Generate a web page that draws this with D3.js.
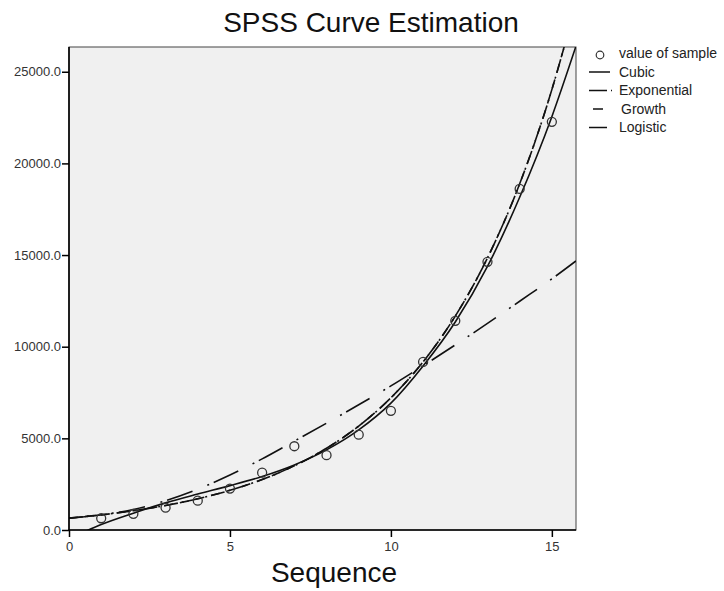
<!DOCTYPE html>
<html lang="en">
<head>
<meta charset="UTF-8">
<title>SPSS Curve Estimation</title>
<script src="https://d3js.org/d3.v7.min.js"></script>
<style>
    body { margin: 0; background: #fff; }
    svg { font-family: "Liberation Sans", Arial, sans-serif; }
    .tick text { fill: #333; font-size: 13px; }
    .tick line { stroke: #000; }
    .domain { display: none; }
</style>
</head>
<body>
<svg width="724" height="591"></svg>
<script>
// observed values
const sampleSeq = [1, 2, 3, 4, 5, 6, 7, 8, 9, 10, 11, 12, 13, 14, 15];
const sampleValues = [640, 880, 1220, 1600, 2260, 3130, 4570, 4080, 5200, 6500, 9170, 11410, 14630, 18610, 22270];

// fitted curves
const cubicSeq = [0, 1, 2, 3, 4, 5, 6, 7, 8, 9, 10, 11, 12, 13, 14, 15, 15.75];
const cubicValues = [-500, 300, 920, 1480, 1960, 2420, 2920, 3550, 4370, 5460, 6920, 8950, 11350, 14380, 18150, 22550, 26400];

const expSeq = [0, 1, 2, 3, 4, 5, 6, 7, 8, 9, 10, 11, 12, 13, 14, 15, 15.5];
const expValues = [650, 827, 1052, 1338, 1702, 2165, 2754, 3503, 4457, 5669, 7212, 9174, 11670, 14846, 18886, 24025, 27100];
const growthValues = [650, 827, 1052, 1338, 1702, 2165, 2754, 3503, 4457, 5669, 7212, 9174, 11670, 14846, 18886, 24025, 27100];

const logisticSeq = [0, 1, 2, 3, 4, 5, 6, 7, 8, 9, 10, 11, 12, 13, 14, 15, 15.75];
const logisticValues = [640, 830, 1120, 1600, 2230, 3000, 3880, 4850, 5830, 6830, 7860, 8960, 10100, 11270, 12480, 13700, 14680];

const xTicks = [0, 5, 10, 15];
const yTicks = [0, 5000, 10000, 15000, 20000, 25000];
const legendLabels = ["value of sample", "Cubic", "Exponential", "Growth", "Logistic"];

const plotLeft = 69, plotRight = 576, plotTop = 47, plotBottom = 530;

const svg = d3.select("svg");

const x = d3.scaleLinear().domain([0, 15.75]).range([plotLeft, plotRight]);
const y = d3.scaleLinear().domain([0, 26350]).range([plotBottom, plotTop]);

// plot panel
svg.append("rect")
    .attr("x", plotLeft).attr("y", plotTop)
    .attr("width", plotRight - plotLeft).attr("height", plotBottom - plotTop)
    .attr("fill", "#f0f0f0")
    .attr("stroke", "#444")
    .attr("stroke-width", 1);

svg.append("clipPath").attr("id", "plot-clip")
    .append("rect")
    .attr("x", plotLeft).attr("y", plotTop)
    .attr("width", plotRight - plotLeft).attr("height", plotBottom - plotTop);

const plot = svg.append("g").attr("clip-path", "url(#plot-clip)");

const line = d3.line()
    .x(d => x(d[0]))
    .y(d => y(d[1]))
    .curve(d3.curveMonotoneX);

const curves = [
    { seq: logisticSeq, vals: logisticValues, dash: "27,16,2,5" },
    { seq: expSeq, vals: growthValues, dash: "9,7" },
    { seq: expSeq, vals: expValues, dash: "14,4,2,4" },
    { seq: cubicSeq, vals: cubicValues, dash: null }
];

curves.forEach(c => {
    plot.append("path")
        .datum(c.seq.map((t, i) => [t, c.vals[i]]))
        .attr("d", line)
        .attr("fill", "none")
        .attr("stroke", "#111")
        .attr("stroke-width", 1.6)
        .attr("stroke-dasharray", c.dash);
});

plot.selectAll("circle.sample")
    .data(sampleSeq.map((t, i) => [t, sampleValues[i]]))
    .enter().append("circle")
    .attr("class", "sample")
    .attr("cx", d => x(d[0]))
    .attr("cy", d => y(d[1]))
    .attr("r", 4.5)
    .attr("fill", "none")
    .attr("stroke", "#333")
    .attr("stroke-width", 1.3);

// axes
svg.append("g")
    .attr("transform", `translate(0, ${plotBottom})`)
    .call(d3.axisBottom(x).tickValues(xTicks).tickSize(7).tickPadding(5).tickFormat(d3.format("d")))
    .call(g => g.selectAll(".tick line").attr("stroke-width", 1.5));

svg.append("g")
    .attr("transform", `translate(${plotLeft}, 0)`)
    .call(d3.axisLeft(y).tickValues(yTicks).tickSize(7).tickPadding(1).tickFormat(d3.format(".1f")))
    .call(g => g.selectAll(".tick line").attr("stroke-width", 1.5));

svg.append("line")
    .attr("x1", plotLeft).attr("x2", plotLeft).attr("y1", plotTop).attr("y2", plotBottom + 0.5)
    .attr("stroke", "#000").attr("stroke-width", 1.6);
svg.append("line")
    .attr("x1", plotLeft - 0.5).attr("x2", plotRight).attr("y1", plotBottom).attr("y2", plotBottom)
    .attr("stroke", "#000").attr("stroke-width", 1.6);

// titles
svg.append("text")
    .attr("x", 371).attr("y", 32)
    .attr("text-anchor", "middle")
    .style("font-size", "28px")
    .attr("fill", "#111")
    .text("SPSS Curve Estimation");

svg.append("text")
    .attr("x", 334).attr("y", 582)
    .attr("text-anchor", "middle")
    .style("font-size", "28px")
    .attr("fill", "#111")
    .text("Sequence");

// legend
const legend = svg.append("g");
const legendY = (i) => 58 + i * 18.5;
const legendDash = [null, null, "18,4,2,4", "10,40", "18,4,2,4"];
const legendX1 = [0, 589, 589, 593, 589];
const legendX2 = [0, 610, 612, 603, 611];

legend.append("circle")
    .attr("cx", 600).attr("cy", legendY(0) - 3)
    .attr("r", 3.8)
    .attr("fill", "none")
    .attr("stroke", "#333")
    .attr("stroke-width", 1.2);

legendLabels.forEach((label, i) => {
    if (i > 0) {
        legend.append("line")
            .attr("x1", legendX1[i]).attr("x2", legendX2[i])
            .attr("y1", legendY(i) - 4.5).attr("y2", legendY(i) - 4.5)
            .attr("stroke", "#111").attr("stroke-width", 1.5)
            .attr("stroke-dasharray", legendDash[i]);
    }
    legend.append("text")
        .attr("x", label === "Growth" ? 621 : 619)
        .attr("y", legendY(i))
        .style("font-size", "14px")
        .attr("fill", "#222")
        .text(label);
});
</script>
</body>
</html>
